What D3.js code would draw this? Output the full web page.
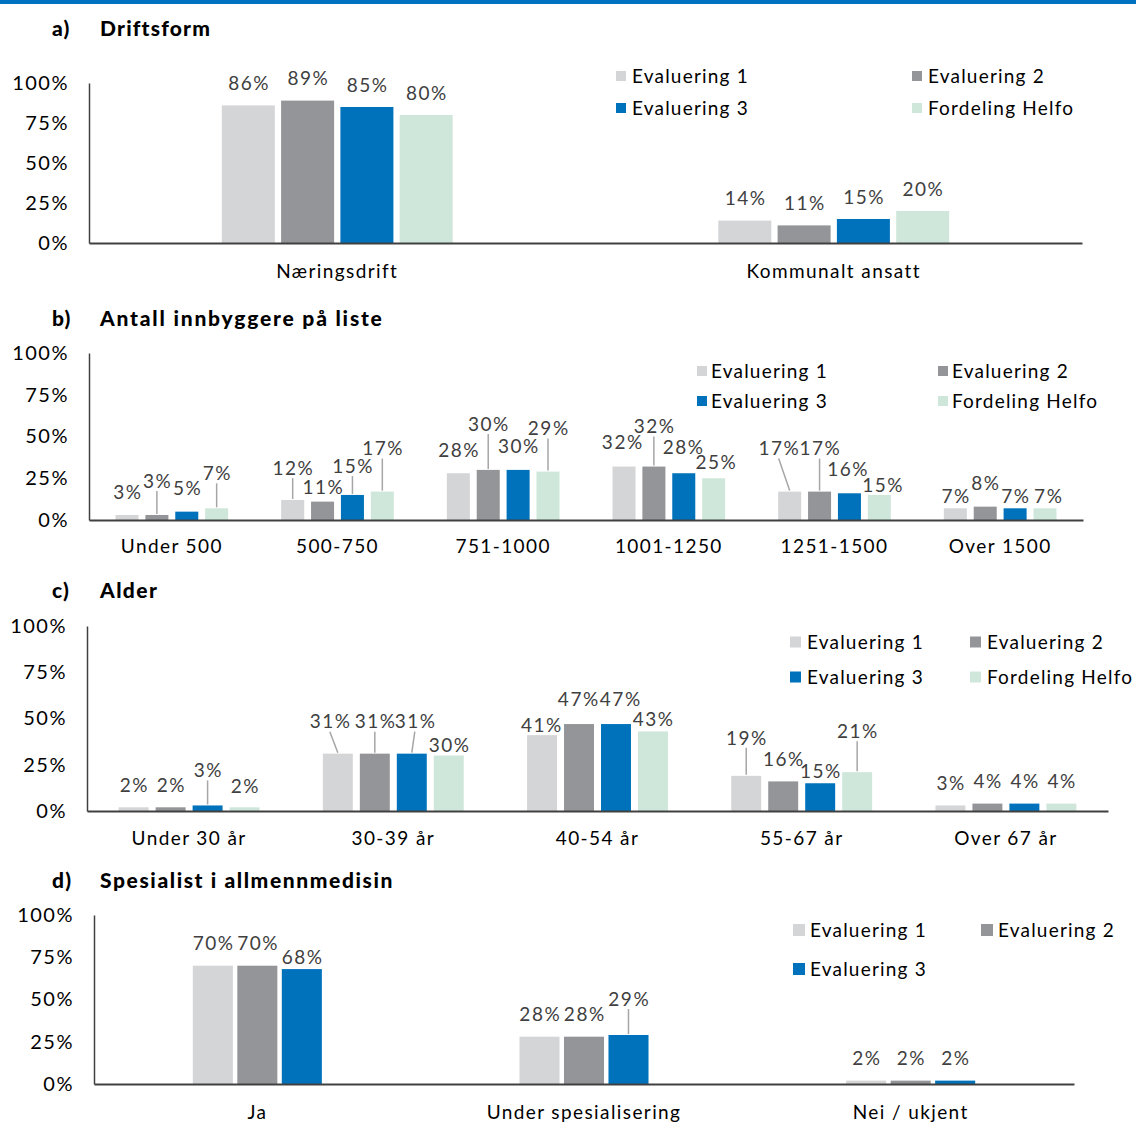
<!DOCTYPE html>
<html><head><meta charset="utf-8">
<script src="https://cdn.jsdelivr.net/npm/d3@7"></script>
<style>
html,body{margin:0;padding:0;background:#fff;}
svg{display:block;font-family:Lato, "Open Sans", sans-serif;}
</style></head>
<body>
<svg id="chart" width="1136" height="1140"></svg>
<script>
// ---------- DATA ----------
const seriesNames = ["Evaluering 1", "Evaluering 2", "Evaluering 3", "Fordeling Helfo"];
const seriesColors = ["#D4D5D7", "#939598", "#0072BC", "#CFE7DA"];

// a) Driftsform
const catsA = ["Næringsdrift", "Kommunalt ansatt"];
const eval1A = [86, 14];
const eval2A = [89, 11];
const eval3A = [85, 15];
const helfoA = [80, 20];

// b) Antall innbyggere på liste
const catsB = ["Under 500", "500-750", "751-1000", "1001-1250", "1251-1500", "Over 1500"];
const eval1B = [3, 12, 28, 32, 17, 7];
const eval2B = [3, 11, 30, 32, 17, 8];
const eval3B = [5, 15, 30, 28, 16, 7];
const helfoB = [7, 17, 29, 25, 15, 7];

// c) Alder
const catsC = ["Under 30 år", "30-39 år", "40-54 år", "55-67 år", "Over 67 år"];
const eval1C = [2, 31, 41, 19, 3];
const eval2C = [2, 31, 47, 16, 4];
const eval3C = [3, 31, 47, 15, 4];
const helfoC = [2, 30, 43, 21, 4];

// d) Spesialist i allmennmedisin
const catsD = ["Ja", "Under spesialisering", "Nei / ukjent"];
const eval1D = [70, 28, 2];
const eval2D = [70, 28, 2];
const eval3D = [68, 29, 2];

const yTicks = [0, 25, 50, 75, 100];

// ---------- label placement (px above bar top, horizontal shift, leader line) ----------
const liftA = [[22,22,22,22],[22,22,22,22]];
const shiftA = [[0,0,0,0],[0,0,0,0]];
const leadA = [[0,0,0,0],[0,0,0,0]];

const liftB = [[23,34,23,35],[32,14,29,43],[23,46,24,43],[24,40,26,16],[43,43,24,10],[12,23,12,12]];
const shiftB = [[0,0,0,0],[0,0,0,0],[0,0,0,0],[-2,0,-1,2],[-11,0,-2,3],[0,0,0,3]];
const leadB = [[0,1,0,1],[1,0,1,1],[0,1,0,1],[0,1,0,0],[1,1,0,0],[0,0,0,0]];

const liftC = [[22,22,35,21],[32,32,32,10],[10,25,25,12],[38,22,12,41],[22,22,22,22]];
const shiftC = [[0,0,0,0],[-8,0,3,0],[-1,-1,4,0],[0,0,0,0],[0,0,0,0]];
const leadC = [[0,0,1,0],[1,1,1,0],[0,0,0,0],[1,0,0,1],[0,0,0,0]];

const liftD = [[22,22,12],[22,22,36],[22,22,22]];
const shiftD = [[0,0,0],[0,0,0],[0,0,0]];
const leadD = [[0,0,0],[0,0,1],[0,0,0]];

// ---------- DRAW ----------
const svg = d3.select("#chart");

svg.append("rect").attr("x", 0).attr("y", 0).attr("width", 1136).attr("height", 4).attr("fill", "#0070C0");

function panel(cfg) {
  const g = svg.append("g");
  const nS = cfg.values.length;
  const y = d3.scaleLinear().domain([0, 100]).range([cfg.yBase, cfg.yTop]);
  const pad = 1 - cfg.groupFrac;
  const x0 = d3.scaleBand().domain(cfg.cats).range([cfg.xL, cfg.xR]).paddingInner(pad).paddingOuter(pad / 2);
  const x1 = d3.scaleBand().domain(d3.range(nS)).range([0, x0.bandwidth()]).paddingInner(cfg.gap);

  // title
  g.append("text").attr("x", 52).attr("y", cfg.titleY).attr("font-weight", 900).attr("font-size", 21)
    .attr("letter-spacing", 1.2).attr("fill", "#000").text(cfg.letter);
  g.append("text").attr("x", 100).attr("y", cfg.titleY).attr("font-weight", 900).attr("font-size", 21)
    .attr("letter-spacing", cfg.titleSpacing).attr("fill", "#000").text(cfg.title);

  // y axis
  const ya = g.append("g").attr("transform", `translate(${cfg.xL},0)`)
    .call(d3.axisLeft(y).tickValues(yTicks).tickFormat(d => d + "%").tickSize(0).tickSizeOuter(0).tickPadding(20));
  ya.select(".domain").attr("stroke", "#404040").attr("stroke-width", 1.5);
  ya.selectAll("text").attr("font-size", 20).attr("letter-spacing", 1.5).attr("fill", "#000").attr("font-family", "Lato, sans-serif");

  // bars
  cfg.cats.forEach((c, ci) => {
    for (let s = 0; s < nS; s++) {
      const v = cfg.values[s][ci];
      const bx = x0(c) + x1(s);
      g.append("rect").attr("x", bx).attr("y", y(v)).attr("width", x1.bandwidth())
        .attr("height", y(0) - y(v)).attr("fill", seriesColors[s]);
    }
  });

  // x axis
  const xa = g.append("g").attr("transform", `translate(0,${cfg.yBase})`)
    .call(d3.axisBottom(x0).tickSize(0).tickSizeOuter(0).tickPadding(cfg.catPad));
  xa.select(".domain").attr("stroke", "#404040").attr("stroke-width", 2);
  xa.selectAll("text").attr("font-size", 19).attr("letter-spacing", 1.4).attr("fill", "#000").attr("font-family", "Lato, sans-serif");

  // labels
  cfg.cats.forEach((c, ci) => {
    for (let s = 0; s < nS; s++) {
      const v = cfg.values[s][ci];
      const bcx = x0(c) + x1(s) + x1.bandwidth() / 2;
      const top = y(v);
      const ly = top - cfg.lift[ci][s];
      const lx = bcx + cfg.shift[ci][s];
      if (cfg.lead[ci][s]) {
        g.append("line").attr("x1", lx).attr("y1", ly + 10).attr("x2", bcx).attr("y2", top - 1)
          .attr("stroke", "#A6A6A6").attr("stroke-width", 1.5);
      }
      g.append("text").attr("x", lx + 0.75).attr("y", ly).attr("dy", "0.35em").attr("text-anchor", "middle")
        .attr("font-size", 19).attr("letter-spacing", 1.5).attr("fill", "#404040").text(v + "%");
    }
  });

  // legend
  const L = cfg.legend;
  for (let s = 0; s < nS; s++) {
    const col = s % 2, row = Math.floor(s / 2);
    const sx = L.cols[col], sy = L.rows[row];
    g.append("rect").attr("x", sx).attr("y", sy - L.sw / 2).attr("width", L.sw).attr("height", L.sw).attr("fill", seriesColors[s]);
    g.append("text").attr("x", sx + L.sw + L.gap).attr("y", sy).attr("dy", "0.35em").attr("font-size", 19)
      .attr("letter-spacing", 1.2).attr("fill", "#000").text(seriesNames[s]);
  }
}

panel({
  letter: "a)", title: "Driftsform", titleY: 36, titleSpacing: 1.2,
  cats: catsA, values: [eval1A, eval2A, eval3A, helfoA],
  xL: 89, xR: 1082, yBase: 243, yTop: 83, groupFrac: 0.465, gap: 0.106, catPad: 22,
  lift: liftA, shift: shiftA, lead: leadA,
  legend: { cols: [616, 912], rows: [76, 108], sw: 10, gap: 6 }
});

panel({
  letter: "b)", title: "Antall innbyggere på liste", titleY: 326, titleSpacing: 1.8,
  cats: catsB, values: [eval1B, eval2B, eval3B, helfoB],
  xL: 89, xR: 1083, yBase: 520, yTop: 353, groupFrac: 0.68, gap: 0.23, catPad: 20,
  lift: liftB, shift: shiftB, lead: leadB,
  legend: { cols: [697, 938], rows: [371, 401], sw: 10, gap: 4 }
});

panel({
  letter: "c)", title: "Alder", titleY: 598, titleSpacing: 1.4,
  cats: catsC, values: [eval1C, eval2C, eval3C, helfoC],
  xL: 87, xR: 1108, yBase: 811, yTop: 626, groupFrac: 0.69, gap: 0.19, catPad: 21,
  lift: liftC, shift: shiftC, lead: leadC,
  legend: { cols: [790, 970], rows: [642, 677], sw: 11, gap: 6 }
});

panel({
  letter: "d)", title: "Spesialist i allmennmedisin", titleY: 888, titleSpacing: 1.6,
  cats: catsD, values: [eval1D, eval2D, eval3D],
  xL: 94, xR: 1074, yBase: 1084, yTop: 915, groupFrac: 0.395, gap: 0.1, catPad: 22,
  lift: liftD, shift: shiftD, lead: leadD,
  legend: { cols: [793, 981], rows: [930, 969], sw: 12, gap: 5 }
});
</script>
</body></html>
